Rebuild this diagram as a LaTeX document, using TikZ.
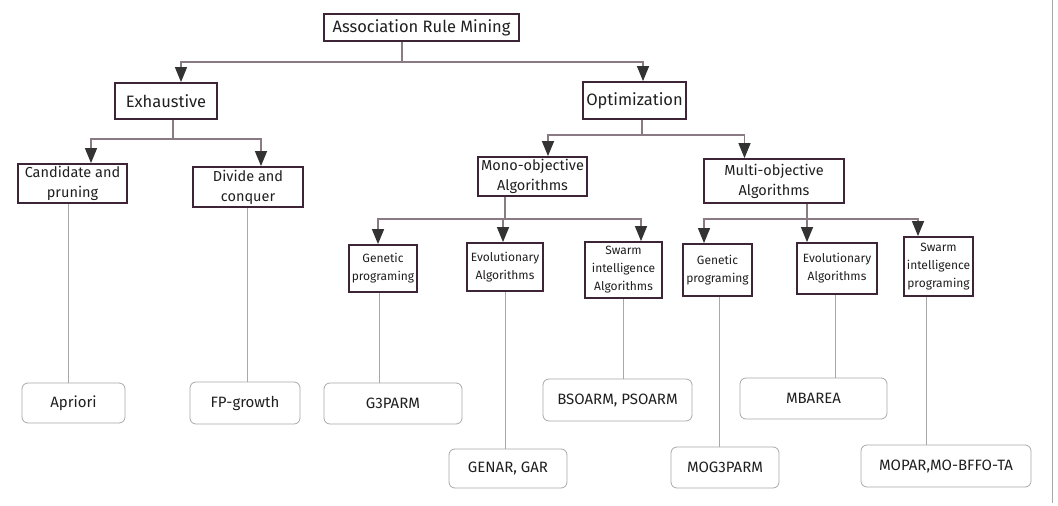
\documentclass[tikz,border=0pt]{standalone}
\usepackage{fontspec}
\setmainfont{Fira Sans}
\usetikzlibrary{arrows.meta}

\definecolor{plum}{HTML}{3D2436}
\definecolor{wirec}{HTML}{8A7A84}
\definecolor{tipc}{HTML}{333333}
\definecolor{leafc}{HTML}{A8A8A8}

\begin{document}
\begin{tikzpicture}[x=1pt,y=-1pt,line width=1.3pt,>={Triangle[width=12pt,length=15pt,color=tipc]},
  box/.style={draw=plum,line width=1.8pt,inner sep=0pt,align=center,text=black!88},
  big/.style={font=\fontsize{16.5}{18}\selectfont},
  mid/.style={font=\fontsize{14.5}{20}\selectfont},
  small/.style={font=\fontsize{12}{18}\selectfont},
  leaf/.style={draw=leafc,line width=0.8pt,rounded corners=6pt,inner sep=0pt,text=black!88,font=\fontsize{15}{17}\selectfont},
  wire/.style={wirec,line width=1.3pt},
  stem/.style={leafc,line width=0.7pt}]
  \useasboundingbox (0,0) rectangle (1058,506);
  % frame edge
  \draw[leafc,line width=1pt] (1052.5,0)--(1052.5,503);
  % root and first split
  \node[box,big,minimum width=195,minimum height=27] (arm) at (421.5,27.5) {Association Rule Mining};
  \node[box,big,minimum width=102,minimum height=36] (exh) at (166,101) {Exhaustive};
  \node[box,big,minimum width=103,minimum height=37] (opt) at (634.5,100.5) {Optimization};
  % exhaustive branch
  \node[box,mid,minimum width=109,minimum height=39] (cand) at (72.5,183.5) {Candidate and\\pruning};
  \node[box,mid,minimum width=110,minimum height=40] (div) at (248,187) {Divide and\\conquer};
  % optimization branch
  \node[box,mid,minimum width=109,minimum height=39] (mono) at (532.5,176.5) {Mono-objective\\Algorithms};
  \node[box,mid,minimum width=140,minimum height=44] (multi) at (774,181) {Multi-objective\\Algorithms};
  \node[box,small,minimum width=68,minimum height=47] (gp1) at (383,268.5) {Genetic\\programing};
  \node[box,small,minimum width=76,minimum height=48] (ea1) at (505,267) {Evolutionary\\Algorithms};
  \node[box,small,minimum width=77,minimum height=56] (si1) at (623.5,270) {Swarm\\intelligence\\Algorithms};
  \node[box,small,minimum width=69,minimum height=52] (gp2) at (717.5,270) {Genetic\\programing};
  \node[box,small,minimum width=80,minimum height=51] (ea2) at (837,268.5) {Evolutionary\\Algorithms};
  \node[box,small,minimum width=69,minimum height=59] (si2) at (938.5,266.5) {Swarm\\intelligence\\programing};
  % leaves
  \node[leaf,minimum width=103,minimum height=40] (apr) at (73.5,403) {Apriori};
  \node[leaf,minimum width=110,minimum height=42] (fpg) at (245,403) {FP-growth};
  \node[leaf,minimum width=138,minimum height=41] (g3) at (393,403.5) {G3PARM};
  \node[leaf,minimum width=118,minimum height=39] (gen) at (508,468.5) {GENAR, GAR};
  \node[leaf,minimum width=149,minimum height=42] (bso) at (617.5,400) {BSOARM, PSOARM};
  \node[leaf,minimum width=108,minimum height=41] (mog) at (725,467.5) {MOG3PARM};
  \node[leaf,minimum width=147,minimum height=41] (mba) at (813.5,398.5) {MBAREA};
  \node[leaf,minimum width=170,minimum height=42] (mop) at (946,466) {MOPAR,MO-BFFO-TA};
  % arrows between levels
  \draw[wire,->] ([xshift=-19.5]arm.south) -- ++(0,20) -| ([xshift=15]exh.north);
  \draw[wire,->] ([xshift=-19.5]arm.south) -- ++(0,20) -| ([xshift=8.5]opt.north);
  \draw[wire,->] ([xshift=7]exh.south) -- ++(0,19) -| ([xshift=18.5]cand.north);
  \draw[wire,->] ([xshift=7]exh.south) -- ++(0,19) -| ([xshift=13]div.north);
  \draw[wire,->] ([xshift=7.5]opt.south) -- ++(0,15) -| ([xshift=15.5]mono.north);
  \draw[wire,->] ([xshift=7.5]opt.south) -- ++(0,15) -| ([xshift=-29.5]multi.north);
  \draw[wire,->] ([xshift=-27.5]mono.south) -- ++(0,22) -| ([xshift=-5]gp1.north);
  \draw[wire,->] ([xshift=-27.5]mono.south) -- ++(0,22) -| ([xshift=-2]ea1.north);
  \draw[wire,->] ([xshift=-27.5]mono.south) -- ++(0,22) -| ([xshift=17.5]si1.north);
  \draw[wire,->] ([xshift=33]multi.south) -- ++(0,15) -| ([xshift=-13.5]gp2.north);
  \draw[wire,->] ([xshift=33]multi.south) -- ++(0,15) -| ([xshift=-30]ea2.north);
  \draw[wire,->] ([xshift=33]multi.south) -- ++(0,15) -| ([xshift=-20.5]si2.north);
  % thin stems down to the leaves
  \draw[stem] ([xshift=-4.5]cand.south) -- ([xshift=-5.5]apr.north);
  \draw[stem] ([xshift=-1]div.south) -- ([xshift=2]fpg.north);
  \draw[stem] ([xshift=-4]gp1.south) -- ([xshift=-14]g3.north);
  \draw[stem] (ea1.south) -- ([xshift=-3]gen.north);
  \draw[stem] ([xshift=-0.5]si1.south) -- ([xshift=5.5]bso.north);
  \draw[stem] ([xshift=1.5]gp2.south) -- ([xshift=-6]mog.north);
  \draw[stem] ([xshift=-2]ea2.south) -- ([xshift=21.5]mba.north);
  \draw[stem] ([xshift=-12.5]si2.south) -- ([xshift=-20]mop.north);
\end{tikzpicture}
\end{document}
